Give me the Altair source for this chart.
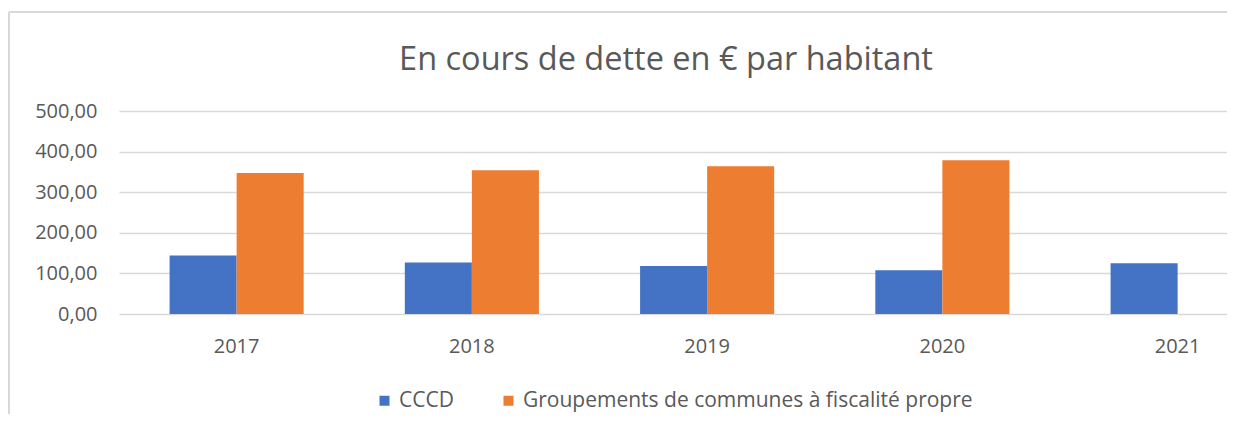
import altair as alt
import pandas as pd

years = ["2017", "2018", "2019", "2020", "2021"]
cccd = [144, 127, 118, 108, 125]
groupements = [347, 354, 364, 379, None]
series_names = ["CCCD", "Groupements de communes à fiscalité propre"]
colors = ["#4472C4", "#ED7D31"]
y_ticks = [0, 100, 200, 300, 400, 500]
title_text = "En cours de dette en € par habitant"

rows = []
for y, a, b in zip(years, cccd, groupements):
    rows.append({"year": y, "series": series_names[0], "value": a})
    if b is not None:
        rows.append({"year": y, "series": series_names[1], "value": b})
df = pd.DataFrame(rows)

W = 1108
H = 203
STEP = 235.25
FONT = "Open Sans"
GREY = "#595959"
GRID = "#d9d9d9"

bars = alt.Chart(df).mark_bar().encode(
    x=alt.X("year:N", sort=years,
            scale=alt.Scale(range=[0, STEP * len(years)], paddingInner=0.43, paddingOuter=0.215),
            axis=alt.Axis(title=None, labelAngle=0, ticks=False, domain=False,
                          labelPadding=22, labelFontSize=20, labelColor=GREY, labelFont=FONT)),
    xOffset=alt.XOffset("series:N", sort=series_names,
                        scale=alt.Scale(paddingInner=0, paddingOuter=0)),
    y=alt.Y("value:Q", scale=alt.Scale(domain=[0, 500]),
            axis=alt.Axis(title=None, values=y_ticks, ticks=False, domain=False,
                          labelExpr="replace(format(datum.value, '.2f'), '.', ',')",
                          labelPadding=22, labelFontSize=20, labelColor=GREY, labelFont=FONT,
                          gridColor=GRID, gridWidth=1.5)),
    color=alt.Color("series:N", sort=series_names,
                    scale=alt.Scale(domain=series_names, range=colors),
                    legend=alt.Legend(title=None, orient="none", direction="horizontal",
                                      legendX=255, legendY=279, symbolType="square",
                                      symbolSize=100, symbolStrokeWidth=0, labelFontSize=21,
                                      labelColor=GREY, labelFont=FONT, columnPadding=44,
                                      labelOffset=4, labelLimit=0)),
)

frame_top = alt.Chart(df).mark_rule(color=GRID, strokeWidth=1.5).encode(
    x=alt.value(-110), x2=alt.value(W + 10), y=alt.value(-99)
)
frame_left = alt.Chart(df).mark_rule(color=GRID, strokeWidth=1.5).encode(
    x=alt.value(-110), y=alt.value(-99), y2=alt.value(H + 110)
)
title = alt.Chart(pd.DataFrame({"t": [title_text]})).mark_text(
    font=FONT, fontSize=32.5, color=GREY, align="center", baseline="alphabetic"
).encode(text="t:N", x=alt.value(547), y=alt.value(-41))

chart = alt.layer(frame_top, frame_left, title, bars).properties(
    width=W, height=H,
    autosize=alt.AutoSizeParams(type="none"),
    padding={"left": 111, "top": 103, "right": 0, "bottom": 100},
).configure_view(stroke=None)

chart.save("out.html", embed_options={"renderer": "svg", "actions": False})
